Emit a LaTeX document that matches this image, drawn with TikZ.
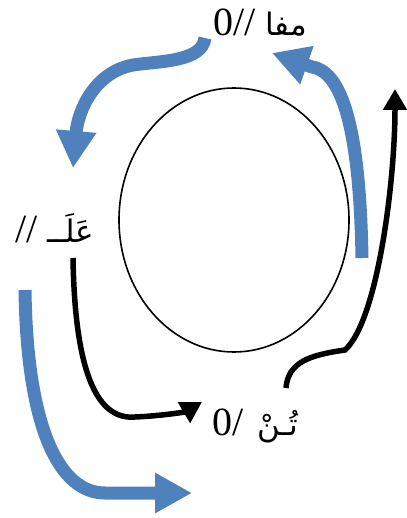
\documentclass[tikz,border=0pt]{standalone}
\usepackage{fontspec}
\setmainfont{Liberation Serif}
\newfontfamily\arabicfont[Script=Arabic]{DejaVu Sans}
\TeXXeTstate=1
\usetikzlibrary{arrows.meta}
\definecolor{officeblue}{HTML}{4F81BD}
\newcommand\arabtxt[1]{{\arabicfont\fontsize{31}{34}\selectfont\beginR #1\endR}}
\tikzset{
  lbl/.style={inner sep=0pt, anchor=base west, font=\fontsize{40}{44}\selectfont},
  bluearrow/.style={draw=officeblue, line width=13pt, -{Triangle[length=37pt,width=38pt]}},
  blackarrow/.style={draw=black, line width=5.5pt, -{Triangle[length=21pt,width=23pt]}},
  ring/.style={draw=black, line width=1.6pt},
}
\begin{document}
\begin{tikzpicture}[x=1pt,y=-1pt]
\useasboundingbox (0,0) rectangle (406,518);
% ellipse
\draw[ring] (234,220) ellipse [x radius=115, y radius=132];
% labels
\node[lbl] (top) at (213,36) {0// \arabtxt{مفا}};
\node[lbl] (left) at (15,242) {//\hspace{10pt}\arabtxt{عَلَــ}};
\node[lbl] (bot) at (212,435) {0/\hspace{14pt}\arabtxt{تُـنْ}};
% connector ends
\coordinate (a1s) at (205,38);
\coordinate (a1e) at (73,168);
\coordinate (a2s) at (362,258);
\coordinate (a2e) at (272,53);
\coordinate (a3s) at (286,388);
\coordinate (a3e) at (395,89);
\coordinate (a4s) at (73,258);
\coordinate (a4e) at (202,402);
\coordinate (a5s) at (25,290);
\coordinate (a5e) at (192,493);
% blue arrows
\draw[bluearrow] (a1s) .. controls (202,62) and (160,61) .. (133,65)
  .. controls (95,72) and (78,110) .. (a1e);
\draw[bluearrow] (a2s) .. controls (360,140) and (345,72) .. (312,67) -- (a2e);
\draw[bluearrow] (a5s) .. controls (27,430) and (60,493) .. (105,493) -- (a5e);
% black arrows
\draw[blackarrow] (a3s) .. controls (288,362) and (310,355) .. (345,350)
  .. controls (378,320) and (395,180) .. (a3e);
\draw[blackarrow] (a4s) .. controls (75,380) and (100,420) .. (135,417)
  .. controls (160,416) and (185,412) .. (a4e);
\end{tikzpicture}
\end{document}
